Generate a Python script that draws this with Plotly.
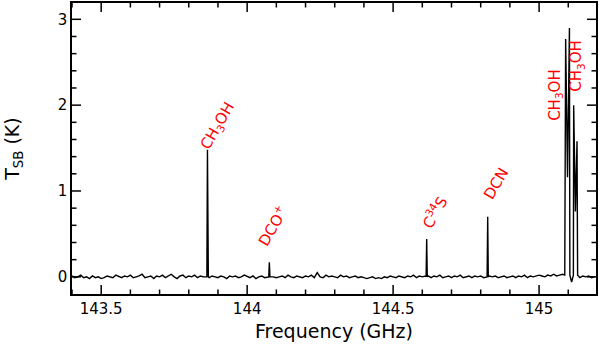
import plotly.graph_objects as go

# Baseline channels: start frequency, channel step (GHz) and the noise (K)
base_start = 143.40
base_step = 0.01
base_noise = [
    0.01, -0.01, 0.00, 0.02, -0.01, 0.00, -0.02, 0.01, -0.01, 0.00,
    -0.02, -0.01, 0.01, 0.00, -0.01, 0.02, 0.00, -0.01, 0.01, 0.00,
    0.02, -0.01, 0.00, 0.01, 0.03, -0.01, 0.00, 0.01, -0.02, 0.01,
    0.00, 0.02, -0.01, 0.01, 0.03, 0.00, -0.02, 0.01, 0.02, -0.01,
    0.01, 0.00, 0.02, -0.01, 0.01, 0.00, 0.02, -0.01, 0.01, 0.00,
    -0.01, 0.01, 0.00, -0.02, 0.01, 0.00, 0.01, -0.01, 0.00, 0.02,
    0.00, -0.01, 0.01, -0.02, 0.00, 0.01, -0.01, 0.00, 0.01, 0.00,
    -0.01, 0.00, 0.01, -0.01, 0.02, 0.00, -0.01, 0.01, 0.00, -0.01,
    0.01, 0.00, 0.02, -0.01, 0.05, 0.00, -0.01, 0.02, 0.00, 0.01,
    0.00, -0.01, 0.02, 0.00, 0.01, -0.01, 0.00, 0.01, -0.01, 0.00,
    -0.01, -0.02, -0.01, 0.00, -0.02, -0.01, -0.02, 0.00, -0.01, 0.01,
    0.00, -0.01, 0.01, 0.00, -0.01, 0.01, 0.00, 0.02, -0.01, 0.01,
    0.00, 0.01, 0.01, -0.01, 0.01, 0.00, 0.02, -0.01, 0.00, 0.01,
    -0.01, 0.01, 0.00, 0.02, -0.01, 0.00, 0.01, -0.01, 0.01, 0.00,
    0.01, -0.01, 0.00, 0.01, 0.00, 0.01, -0.01, 0.00, 0.01, -0.01,
    0.00, 0.01, -0.01, 0.01, 0.00, 0.02, -0.01, 0.01, 0.00, 0.01,
    0.02, 0.01, 0.00, 0.02, 0.01, 0.03, 0.01, 0.02, 0.03, 0.02,
    0.01, 0.02, 0.01, 0.00, -0.01, 0.01, 0.00, 0.01, -0.01, 0.00,
]

# Emission line channels (GHz, K)
line_freq = [
    143.8620, 143.8640, 143.8655, 143.8670,
    144.0740, 144.0760, 144.0780,
    144.6130, 144.6150, 144.6170,
    144.8220, 144.8240, 144.8260,
    145.0880, 145.0895, 145.0900, 145.0910, 145.0975, 145.1040, 145.1055,
    145.1115, 145.1175, 145.1185, 145.1245, 145.1300, 145.1320,
]
line_tsb = [
    0.00, 1.48, 0.93, 0.00,
    0.00, 0.17, 0.00,
    0.00, 0.44, 0.00,
    0.00, 0.70, 0.00,
    0.02, 1.56, 1.45, 2.77, 1.16, 2.90, 0.02,
    -0.06, 0.02, 2.00, 0.76, 1.58, 0.02,
]

# Line labels
label_text = ["CH<sub>3</sub>OH", "DCO<sup>+</sup>", "C<sup>34</sup>S", "DCN",
              "CH<sub>3</sub>OH", "CH<sub>3</sub>OH"]
label_x = [143.901, 144.088, 144.640, 144.853, 145.058, 145.130]
label_y = [1.76, 0.60, 0.76, 1.08, 2.12, 2.46]
label_angle = [-60, -60, -60, -60, -90, -90]

# Tick values
x_major = [143.5, 144.0, 144.5, 145.0]
x_minor = [143.4, 143.6, 143.7, 143.8, 143.9, 144.1, 144.2, 144.3, 144.4,
           144.6, 144.7, 144.8, 144.9, 145.1]
y_major = [0, 1, 2, 3]
y_minor = [0.2, 0.4, 0.6, 0.8, 1.2, 1.4, 1.6, 1.8, 2.2, 2.4, 2.6, 2.8]

# merge baseline with line channels
windows = []
i = 0
groups = [4, 3, 3, 3, 13]
for g in groups:
    windows.append((line_freq[i] - 0.002, line_freq[i + g - 1] + 0.002))
    i += g

pts = []
for k, v in enumerate(base_noise):
    f = base_start + k * base_step
    if any(lo <= f <= hi for lo, hi in windows):
        continue
    pts.append((f, v))
pts += list(zip(line_freq, line_tsb))
pts.sort()
freq = [p[0] for p in pts]
tsb = [p[1] for p in pts]

W, H = 600, 353
M = dict(l=72, r=4, t=3, b=59)
pw = W - M["l"] - M["r"]
ph = H - M["t"] - M["b"]

fig = go.Figure()
fig.add_trace(go.Scatter(x=freq, y=tsb, mode="lines",
                         line=dict(color="black", width=1.4), showlegend=False))

for t, x, y, a in zip(label_text, label_x, label_y, label_angle):
    fig.add_annotation(x=x, y=y, text=t, textangle=a, showarrow=False,
                       font=dict(color="red", size=15, family="DejaVu Sans"))

# inward ticks on all four sides
tick = dict(color="black", width=1.5)
for vals, ln in ((x_major, 9), (x_minor, 4.5)):
    L = ln / ph
    for v in vals:
        fig.add_shape(type="line", xref="x", yref="paper", x0=v, x1=v, y0=0, y1=L, line=tick)
        fig.add_shape(type="line", xref="x", yref="paper", x0=v, x1=v, y0=1 - L, y1=1, line=tick)
for vals, ln in ((y_major, 9), (y_minor, 4.5)):
    L = ln / pw
    for v in vals:
        fig.add_shape(type="line", xref="paper", yref="y", x0=0, x1=L, y0=v, y1=v, line=tick)
        fig.add_shape(type="line", xref="paper", yref="y", x0=1 - L, x1=1, y0=v, y1=v, line=tick)

axis = dict(showline=True, linecolor="black", linewidth=1.5, mirror=True,
            ticks="", showgrid=False, zeroline=False, automargin=False,
            tickfont=dict(size=15, family="DejaVu Sans"))

fig.update_layout(
    xaxis=dict(**axis, range=[143.4, 145.195], tickmode="array", tickvals=x_major,
               ticktext=["143.5", "144", "144.5", "145"],
               title=dict(text="Frequency (GHz)", standoff=8,
                          font=dict(size=19, family="DejaVu Sans"))),
    yaxis=dict(**axis, range=[-0.2, 3.19], tickmode="array", tickvals=y_major,
               title=dict(text="T<sub>SB</sub> (K)", standoff=33,
                          font=dict(size=19, family="DejaVu Sans"))),
    width=W, height=H, margin=M,
    plot_bgcolor="white", paper_bgcolor="white", font=dict(color="black"),
)

fig.write_html("out.html", post_script="document.body.style.margin='0';",
               config={"displayModeBar": False})
